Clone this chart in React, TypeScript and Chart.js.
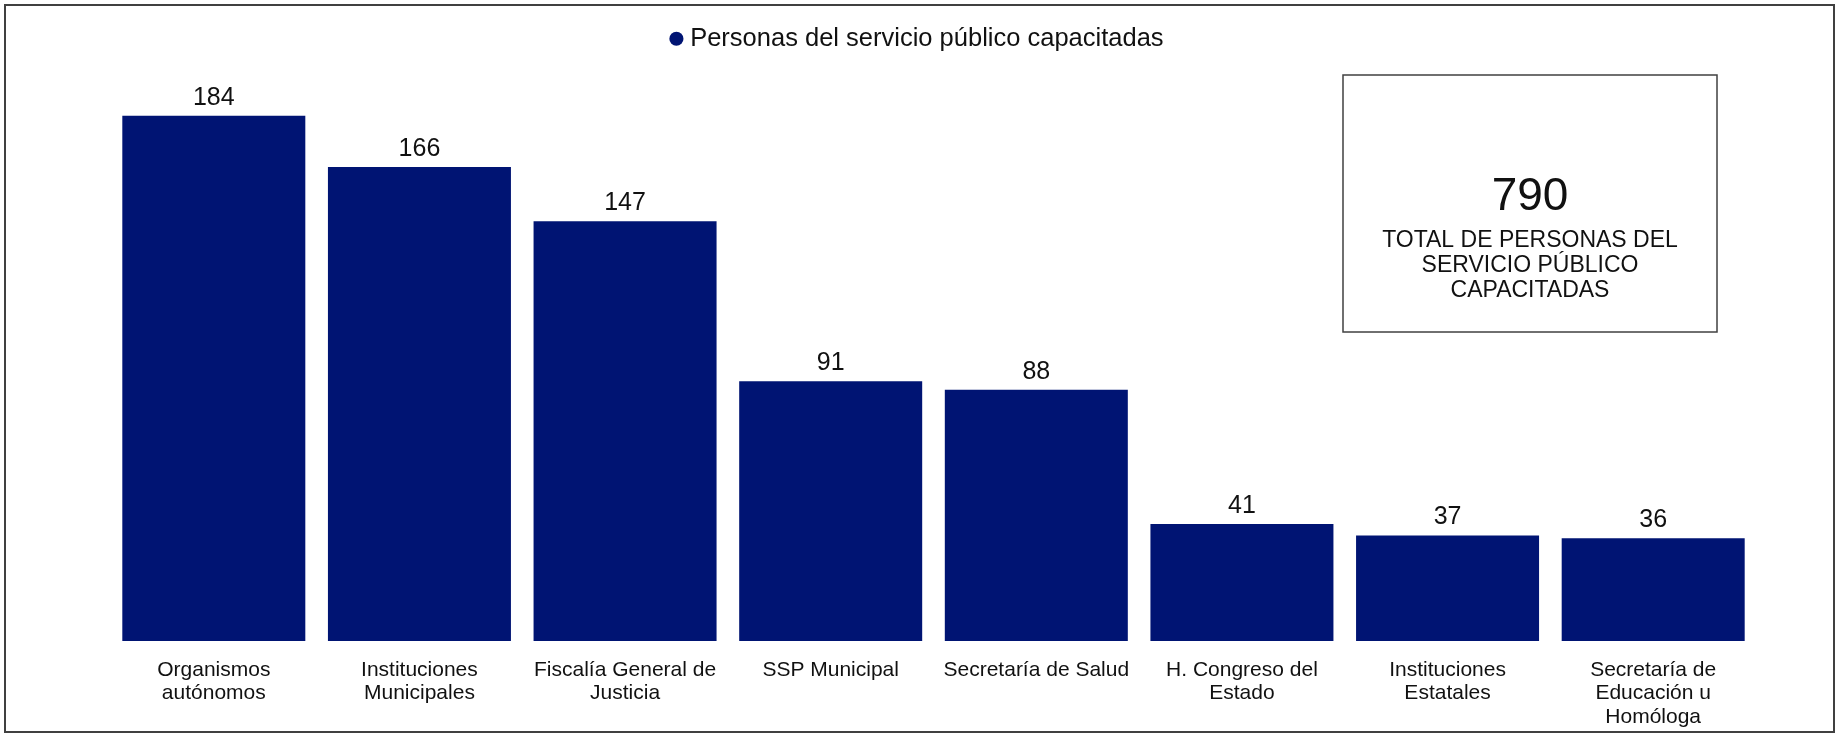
import { useEffect, useRef } from 'react';
import { Chart, registerables } from 'chart.js';

Chart.register(...registerables);

const categories: string[][] = [
  ['Organismos', 'autónomos'],
  ['Instituciones', 'Municipales'],
  ['Fiscalía General de', 'Justicia'],
  ['SSP Municipal'],
  ['Secretaría de Salud'],
  ['H. Congreso del', 'Estado'],
  ['Instituciones', 'Estatales'],
  ['Secretaría de', 'Educación u', 'Homóloga'],
];
const values: number[] = [184, 166, 147, 91, 88, 41, 37, 36];
const seriesLabel = 'Personas del servicio público capacitadas';
const totalLines: string[] = ['TOTAL DE PERSONAS DEL', 'SERVICIO PÚBLICO', 'CAPACITADAS'];
const total = values.reduce((a, b) => a + b, 0);

const FONT = "'Liberation Sans', Arial, Helvetica, sans-serif";
const BAR_COLOR = '#001473';
const TEXT_COLOR = '#111111';

const framePlugin = {
  id: 'frame',
  beforeDraw(chart: any) {
    const { ctx, width, height } = chart;
    ctx.save();
    ctx.fillStyle = '#ffffff';
    ctx.fillRect(0, 0, width, height);
    ctx.strokeStyle = '#404040';
    ctx.lineWidth = 2;
    ctx.strokeRect(5, 5, width - 10, height - 8);
    ctx.restore();
  },
};

const valueLabelPlugin = {
  id: 'valueLabels',
  afterDatasetsDraw(chart: any) {
    const { ctx } = chart;
    const meta = chart.getDatasetMeta(0);
    ctx.save();
    ctx.fillStyle = TEXT_COLOR;
    ctx.font = `25px ${FONT}`;
    ctx.textAlign = 'center';
    ctx.textBaseline = 'alphabetic';
    meta.data.forEach((bar: any, i: number) => {
      ctx.fillText(String(values[i]), bar.x, bar.y - 11);
    });
    ctx.restore();
  },
};

const totalBoxPlugin = {
  id: 'totalBox',
  afterDraw(chart: any) {
    const { ctx } = chart;
    const x = 1343, y = 75, w = 374, h = 257;
    ctx.save();
    ctx.strokeStyle = '#404040';
    ctx.lineWidth = 1.5;
    ctx.strokeRect(x, y, w, h);
    const cx = x + w / 2;
    ctx.fillStyle = TEXT_COLOR;
    ctx.textAlign = 'center';
    ctx.textBaseline = 'alphabetic';
    ctx.font = `46px ${FONT}`;
    ctx.fillText(String(total), cx, 210);
    ctx.font = `23px ${FONT}`;
    totalLines.forEach((line, i) => {
      ctx.fillText(line, cx, 247 + i * 25);
    });
    ctx.restore();
  },
};

export default function App() {
  const canvasRef = useRef<HTMLCanvasElement | null>(null);

  useEffect(() => {
    if (!canvasRef.current) return;
    const chart = new Chart(canvasRef.current, {
      type: 'bar',
      data: {
        labels: categories,
        datasets: [
          {
            label: seriesLabel,
            data: values,
            backgroundColor: BAR_COLOR,
            borderWidth: 0,
            barPercentage: 0.89,
            categoryPercentage: 1,
          },
        ],
      },
      options: {
        animation: false,
        responsive: true,
        maintainAspectRatio: false,
        layout: { padding: { left: 0, right: 0, top: 16, bottom: 0 } },
        plugins: {
          legend: {
            display: true,
            position: 'top',
            labels: {
              usePointStyle: true,
              pointStyle: 'circle',
              boxWidth: 2,
              boxHeight: 10,
              color: TEXT_COLOR,
              font: { family: FONT, size: 25.5 },
              padding: 10,
            },
          },
          tooltip: { enabled: false },
        },
        scales: {
          x: {
            grid: { display: false, drawTicks: false },
            border: { display: false },
            ticks: {
              color: TEXT_COLOR,
              font: { family: FONT, size: 21, lineHeight: 1.1 },
              padding: 18,
              maxRotation: 0,
              autoSkip: false,
            },
            afterFit(scale: any) {
              scale.height = 94;
            },
          },
          y: {
            min: 0,
            max: 203,
            grid: { display: false, drawTicks: false },
            border: { display: false },
            ticks: { display: false },
            afterFit(scale: any) {
              scale.width = 111;
            },
          },
          yRight: {
            position: 'right',
            grid: { display: false, drawTicks: false },
            border: { display: false },
            ticks: { display: false },
            afterFit(scale: any) {
              scale.width = 83;
            },
          },
        },
      },
      plugins: [framePlugin, valueLabelPlugin, totalBoxPlugin],
    });
    return () => chart.destroy();
  }, []);

  return (
    <div style={{ position: 'absolute', left: 0, top: 0, width: 1839, height: 735 }}>
      <canvas ref={canvasRef} />
    </div>
  );
}
